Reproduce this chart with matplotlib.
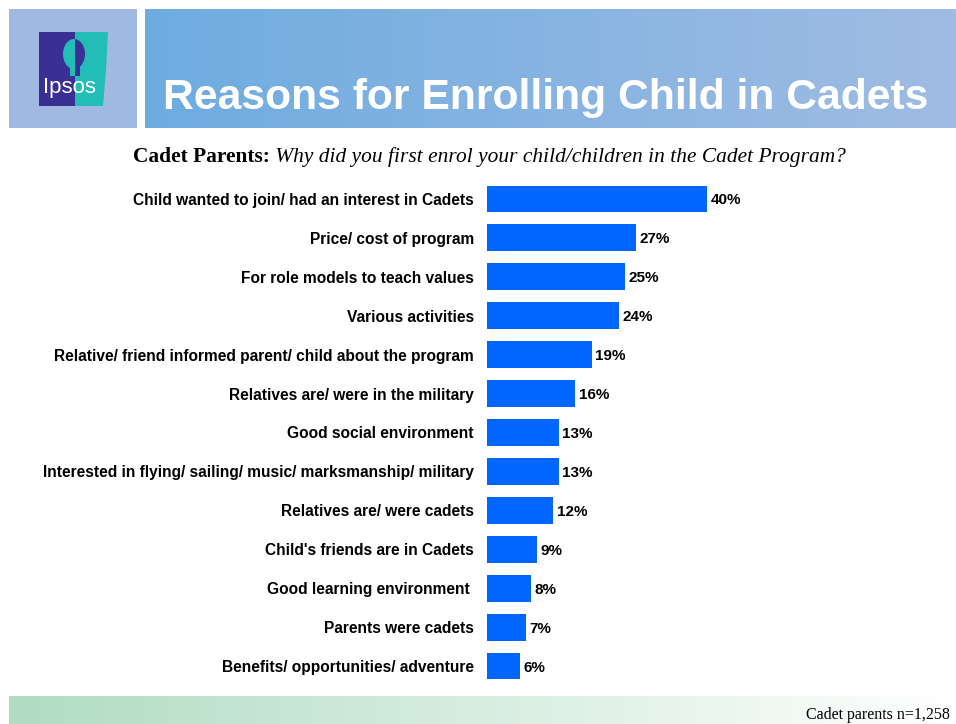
import numpy as np
import matplotlib
matplotlib.use("Agg")
import matplotlib.pyplot as plt
import matplotlib.transforms as mtrans
from matplotlib.patches import Rectangle, Polygon, Ellipse

reasons = [
    "Child wanted to join/ had an interest in Cadets",
    "Price/ cost of program",
    "For role models to teach values",
    "Various activities",
    "Relative/ friend informed parent/ child about the program",
    "Relatives are/ were in the military",
    "Good social environment",
    "Interested in flying/ sailing/ music/ marksmanship/ military",
    "Relatives are/ were cadets",
    "Child's friends are in Cadets",
    "Good learning environment ",
    "Parents were cadets",
    "Benefits/ opportunities/ adventure",
]
shares = [40, 27, 25, 24, 19, 16, 13, 13, 12, 9, 8, 7, 6]

title = "Reasons for Enrolling Child in Cadets"
subtitle_bold = "Cadet Parents:"
subtitle_italic = " Why did you first enrol your child/children in the Cadet Program?"
footnote = "Cadet parents n=1,258"

SANS = "Liberation Sans"
SERIF = "Liberation Serif"

W, H = 956, 724
fig = plt.figure(figsize=(W / 100, H / 100), dpi=100)
fig.patch.set_facecolor("white")

# full-figure overlay in pixel coordinates (y down)
bg = fig.add_axes([0, 0, 1, 1])
bg.set_xlim(0, W)
bg.set_ylim(H, 0)
bg.axis("off")

# logo box
purple, teal = "#3A2F94", "#22BDB6"
bg.add_patch(Rectangle((9, 9), 128, 119, color="#9FB9E0", lw=0))
bg.add_patch(Polygon([(39, 32), (75, 32), (75, 106), (39, 106)], closed=True, color=purple, lw=0))
bg.add_patch(Polygon([(75, 32), (108, 32), (106, 70), (103, 106), (75, 106)], closed=True, color=teal, lw=0))
# head silhouette split down the middle
head_l = Ellipse((74, 54), 22, 30, color=teal, lw=0)
head_r = Ellipse((74, 54), 22, 30, color=purple, lw=0)
bg.add_patch(head_l)
bg.add_patch(head_r)
head_l.set_clip_path(Rectangle((39, 32), 36, 74, transform=bg.transData))
head_r.set_clip_path(Rectangle((75, 32), 33, 74, transform=bg.transData))
bg.add_patch(Rectangle((70, 64), 5, 12, color=teal, lw=0))
bg.add_patch(Rectangle((75, 64), 5, 12, color=purple, lw=0))
bg.text(70, 87, "Ipsos", color="white", fontsize=16, ha="center", va="center",
        family=SANS)

# title banner with horizontal gradient
grad = np.linspace(0, 1, 256).reshape(1, -1)
c0 = np.array([0x6E, 0xAC, 0xE0]) / 255
c1 = np.array([0xA0, 0xBC, 0xE3]) / 255
img = c0[None, None, :] * (1 - grad[..., None]) + c1[None, None, :] * grad[..., None]
bg.imshow(img, extent=(145, 956, 128, 9), aspect="auto", zorder=1)
bg.text(163, 98, title, color="white", fontsize=30.7, fontweight="bold",
        ha="left", va="center", family=SANS, zorder=2)

# footer band gradient
g0 = np.array([0xB0, 0xDC, 0xC2]) / 255
g1 = np.array([1.0, 1.0, 1.0])
fimg = g0[None, None, :] * (1 - grad[..., None]) + g1[None, None, :] * grad[..., None]
bg.imshow(fimg, extent=(9, 956, 724, 696), aspect="auto", zorder=1)
bg.text(950, 715, footnote, color="black", fontsize=11.5, ha="right", va="center",
        family=SERIF, zorder=2)

# subtitle: bold lead-in followed by italic question
t1 = bg.text(133, 157, subtitle_bold, fontsize=15.4, fontweight="bold", ha="left",
             va="center", family=SERIF)
fig.canvas.draw()
x_end = t1.get_window_extent().x1
bg.text(x_end, 157, subtitle_italic, fontsize=15.4, style="italic", ha="left",
        va="center", family=SERIF,
        transform=mtrans.blended_transform_factory(mtrans.IdentityTransform(), bg.transData))

# bar chart
top, bottom = 179.5, 685.5
left, xmax, ppu = 487, 45, 5.5
ax = fig.add_axes([left / W, 1 - bottom / H, xmax * ppu / W, (bottom - top) / H])
ax.set_facecolor("none")
y = np.arange(len(reasons))
ax.barh(y, shares, height=0.69, color="#0066FF", lw=0)
ax.set_xlim(0, xmax)
ax.set_ylim(len(reasons) - 0.5, -0.5)
ax.set_yticks(y)
ax.set_yticklabels(reasons, fontsize=11.2, fontweight="bold", family=SANS)
ax.tick_params(axis="y", length=0, pad=9.4)
ax.set_xticks([])
for s in ax.spines.values():
    s.set_visible(False)
for yi, v in zip(y, shares):
    ax.text(v + 0.7, yi, f"{v}%", va="center_baseline", ha="left", fontsize=11,
            fontweight="bold", family=SANS)

fig.savefig("out.png", dpi=100)
